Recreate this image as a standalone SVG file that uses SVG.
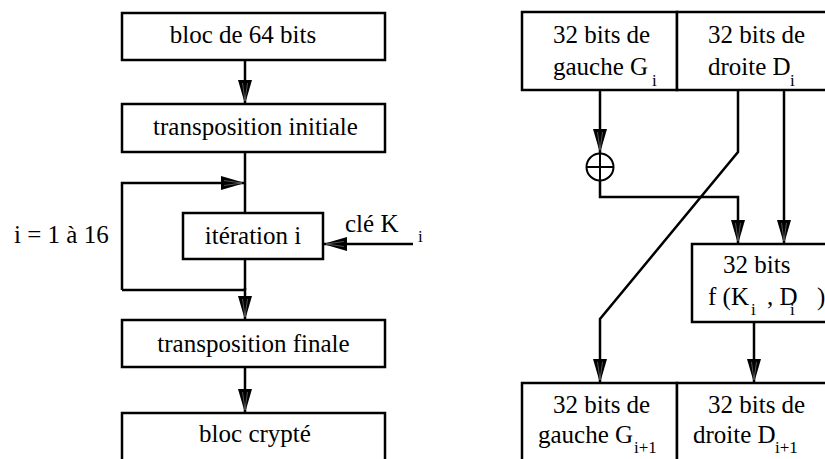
<svg xmlns="http://www.w3.org/2000/svg" width="825" height="459" viewBox="0 0 825 459">
<defs>
<marker id="ah" markerUnits="userSpaceOnUse" markerWidth="26" markerHeight="16" refX="24" refY="7" orient="auto" viewBox="0 0 26 14">
<path d="M0,0 L24,7 L0,14 z" fill="#000"/>
<path d="M3,4.5 L21,7 M3,9.5 L21,7" stroke="#777" stroke-width="0.7" fill="none"/>
</marker>
</defs>
<rect width="825" height="459" fill="#fff"/>

<g id="connectors" fill="none" stroke="#000" stroke-width="2.5">
<line marker-end="url(#ah)" x1="245" y1="60" x2="245" y2="104"/>
<line x1="245" y1="152" x2="245" y2="213"/>
<polyline marker-end="url(#ah)" points="122,290 122,183 245,183"/>
<line x1="245" y1="259" x2="245" y2="290"/>
<line x1="122" y1="290" x2="245" y2="290"/>
<line marker-end="url(#ah)" x1="245" y1="288" x2="245" y2="320"/>
<line marker-end="url(#ah)" x1="413" y1="244" x2="323" y2="244"/>
<line marker-end="url(#ah)" x1="245" y1="367" x2="245" y2="413"/>
<line marker-end="url(#ah)" x1="600" y1="90" x2="600" y2="153"/>
<polyline marker-end="url(#ah)" points="600,181 600,197 738,197 738,244"/>
<line marker-end="url(#ah)" x1="784" y1="90" x2="784" y2="244"/>
<polyline marker-end="url(#ah)" points="738,90 738,152 600,319 600,383"/>
<line marker-end="url(#ah)" x1="754" y1="322" x2="754" y2="383"/>
</g>

<g fill="#fff" stroke="#000" stroke-width="2.5">
<rect id="r-bloc64" x="122" y="13" width="263" height="47"/>
<rect id="r-transinit" x="122" y="104" width="263" height="48"/>
<rect id="r-iteration" x="183" y="213" width="140" height="46"/>
<rect id="r-transfinale" x="122" y="320" width="263" height="47"/>
<rect id="r-bloccrypte" x="122" y="413" width="263" height="60"/>
<rect id="r-Gi" x="522" y="12" width="155" height="78"/>
<rect id="r-Di" x="677" y="12" width="160" height="78"/>
<rect id="r-f" x="692" y="244" width="145" height="78"/>
<rect id="r-Gi1" x="522" y="383" width="155" height="90"/>
<rect id="r-Di1" x="677" y="383" width="160" height="90"/>
</g>

<g id="xor" fill="none" stroke="#000" stroke-width="2"><circle cx="600" cy="167" r="13.5" fill="#fff"/><line x1="586.5" y1="167" x2="613.5" y2="167"/><line x1="600" y1="153.5" x2="600" y2="181"/></g>

<g id="bloc64"><text x="243" y="43" text-anchor="middle" font-family="Liberation Serif" font-size="25">bloc de 64 bits</text></g>
<g id="transinit"><text x="255.5" y="135" text-anchor="middle" font-family="Liberation Serif" font-size="25">transposition initiale</text></g>
<g id="iteration"><text x="253" y="244" text-anchor="middle" font-family="Liberation Serif" font-size="25">itération i</text></g>
<g id="loop-label"><text x="14" y="243" font-family="Liberation Serif" font-size="25">i = 1 à 16</text></g>
<g id="cle"><text x="345" y="232" font-family="Liberation Serif" font-size="25">clé K<tspan x="418" dy="10" font-size="17">i</tspan></text></g>
<g id="transfinale"><text x="253.5" y="352" text-anchor="middle" font-family="Liberation Serif" font-size="25">transposition finale</text></g>
<g id="bloccrypte"><text x="255" y="442" text-anchor="middle" font-family="Liberation Serif" font-size="25">bloc crypté</text></g>
<g id="Gi"><text x="553" y="43" font-family="Liberation Serif" font-size="25">32 bits de</text><text x="553" y="75" font-family="Liberation Serif" font-size="25">gauche G<tspan x="652" dy="11" font-size="17">i</tspan></text></g>
<g id="Di"><text x="708" y="43" font-family="Liberation Serif" font-size="25">32 bits de</text><text x="708" y="75" font-family="Liberation Serif" font-size="25">droite D<tspan x="790" dy="11" font-size="17">i</tspan></text></g>
<g id="f"><text x="723" y="273" font-family="Liberation Serif" font-size="25">32 bits</text><text x="708" y="305" font-family="Liberation Serif" font-size="25">f (K<tspan x="751" dy="10" font-size="17">i</tspan><tspan x="767" dy="-10">, D</tspan><tspan x="790" dy="10" font-size="17">i</tspan><tspan x="817" dy="-10">)</tspan></text></g>
<g id="Gi1"><text x="553" y="413" font-family="Liberation Serif" font-size="25">32 bits de</text><text x="538" y="443" font-family="Liberation Serif" font-size="25">gauche G<tspan x="634" dy="10" font-size="17">i+1</tspan></text></g>
<g id="Di1"><text x="708" y="413" font-family="Liberation Serif" font-size="25">32 bits de</text><text x="693" y="443" font-family="Liberation Serif" font-size="25">droite D<tspan x="775" dy="10" font-size="17">i+1</tspan></text></g>
</svg>
